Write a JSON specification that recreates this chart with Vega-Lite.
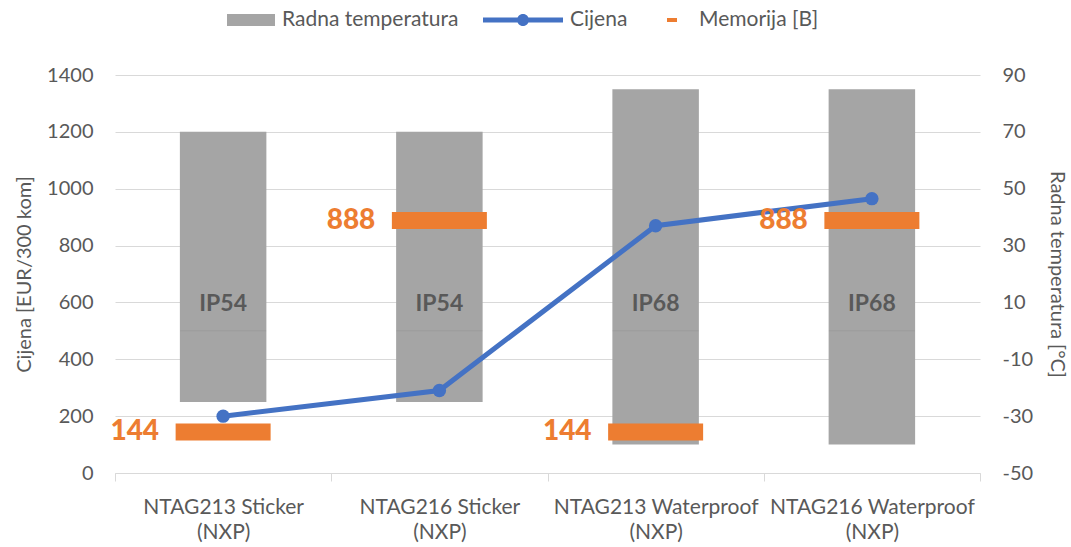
{
  "$schema": "https://vega.github.io/schema/vega-lite/v6.json",
  "width": 865,
  "height": 398,
  "autosize": {"type": "none"},
  "padding": {"left": 115, "top": 75, "right": 91, "bottom": 74},
  "background": "white",
  "config": {
    "view": {"stroke": null},
    "font": "Lato",
    "axis": {
      "labelFont": "Lato",
      "titleFont": "Lato",
      "labelFontSize": 20,
      "titleFontSize": 20,
      "titleFontWeight": "normal",
      "labelColor": "#595959",
      "titleColor": "#595959",
      "gridColor": "#d9d9d9",
      "domainColor": "#d9d9d9",
      "tickColor": "#d9d9d9"
    }
  },
  "data": {
    "values": [
      {"tag": "NTAG213 Sticker (NXP)", "tmin": -25, "tmax": 70, "ip": "IP54", "cijena": 200, "mem": 144},
      {"tag": "NTAG216 Sticker (NXP)", "tmin": -25, "tmax": 70, "ip": "IP54", "cijena": 290, "mem": 888},
      {"tag": "NTAG213 Waterproof (NXP)", "tmin": -40, "tmax": 85, "ip": "IP68", "cijena": 870, "mem": 144},
      {"tag": "NTAG216 Waterproof (NXP)", "tmin": -40, "tmax": 85, "ip": "IP68", "cijena": 965, "mem": 888}
    ]
  },
  "encoding": {
    "x": {
      "field": "tag",
      "type": "nominal",
      "sort": null,
      "scale": {"paddingInner": 0, "paddingOuter": 0},
      "axis": {
        "title": null,
        "labelAngle": 0,
        "labelOverlap": false,
        "labelLimit": 400,
        "labelFontSize": 21,
        "labelExpr": "[substring(datum.label,0,indexof(datum.label,' (')), substring(datum.label,indexof(datum.label,' (')+1)]",
        "labelLineHeight": 25,
        "labelPadding": 15,
        "tickBand": "extent",
        "tickSize": 8,
        "domainColor": "#d9d9d9",
        "tickColor": "#d9d9d9"
      }
    }
  },
  "layer": [
    {
      "layer": [
        {
          "mark": {"type": "bar", "color": "#a5a5a5", "width": {"band": 0.4}},
          "encoding": {
            "y": {
              "field": "tmin",
              "type": "quantitative",
              "title": "Radna temperatura [°C]",
              "scale": {"domain": [-50, 90], "nice": false, "zero": false},
              "axis": {
                "orient": "right",
                "values": [-50, -30, -10, 10, 30, 50, 70, 90],
                "labelExpr": "toString(datum.value)",
                "grid": false,
                "ticks": false,
                "domain": false,
                "labelPadding": 22,
                "titlePadding": 14
              }
            },
            "y2": {"field": "tmax"}
          }
        },
        {
          "mark": {"type": "tick", "color": "#8c8c8c", "opacity": 0.35, "size": 86, "thickness": 1},
          "encoding": {
            "y": {"datum": 0, "type": "quantitative", "title": "Radna temperatura [°C]"}
          }
        },
        {
          "mark": {"type": "text", "color": "#595959", "fontSize": 23, "fontWeight": "bold", "baseline": "middle"},
          "encoding": {
            "y": {"datum": 9.5, "type": "quantitative", "title": "Radna temperatura [°C]"},
            "text": {"field": "ip"}
          }
        }
      ]
    },
    {
      "layer": [
        {
          "mark": {"type": "line", "color": "#4472c4", "strokeWidth": 5, "point": {"filled": true, "size": 180, "color": "#4472c4", "opacity": 1}},
          "encoding": {
            "y": {
              "field": "cijena",
              "type": "quantitative",
              "title": "Cijena [EUR/300 kom]",
              "scale": {"domain": [0, 1400], "nice": false},
              "axis": {
                "orient": "left",
                "values": [0, 200, 400, 600, 800, 1000, 1200, 1400],
                "format": "d",
                "grid": true,
                "ticks": false,
                "domain": false,
                "labelPadding": 22,
                "titlePadding": 12
              }
            }
          }
        },
        {
          "mark": {"type": "tick", "color": "#ed7d31", "opacity": 1, "size": 95, "thickness": 17},
          "encoding": {
            "y": {"field": "mem", "type": "quantitative", "title": "Cijena [EUR/300 kom]"}
          }
        },
        {
          "mark": {"type": "text", "color": "#ed7d31", "fontSize": 28, "fontWeight": 900, "align": "right", "baseline": "middle", "dx": -64},
          "encoding": {
            "y": {"field": "mem", "type": "quantitative", "title": "Cijena [EUR/300 kom]"},
            "text": {"field": "mem"}
          }
        },
        {
          "data": {"values": [{"s": "Radna temperatura"}, {"s": "Cijena"}, {"s": "Memorija [B]"}]},
          "transform": [{"filter": "false"}],
          "mark": {"type": "point", "filled": true},
          "encoding": {
            "x": {"value": 0},
            "y": {"value": 0},
            "color": {
              "field": "s",
              "type": "nominal",
              "scale": {"domain": ["Radna temperatura", "Cijena", "Memorija [B]"], "range": ["#a5a5a5", "#4472c4", "#ed7d31"]},
              "legend": {
                "title": null,
                "orient": "none",
                "direction": "horizontal",
                "legendX": 120,
                "legendY": -75,
                "symbolSize": 1600,
                "symbolStrokeWidth": 0,
                "symbolOpacity": 1,
                "labelFont": "Lato",
                "labelFontSize": 21,
                "labelColor": "#595959",
                "labelOffset": 7,
                "labelLimit": 400,
                "columnPadding": 24
              }
            },
            "shape": {
              "field": "s",
              "type": "nominal",
              "scale": {
                "domain": ["Radna temperatura", "Cijena", "Memorija [B]"],
                "range": [
                  "M-1.4,-0.3H1V0.3H-1.4Z",
                  "M-3,-0.13H1V0.13H-3Z M-0.7,0A0.3,0.3 0 1,1 -1.3,0A0.3,0.3 0 1,1 -0.7,0Z",
                  "M-0.25,-0.1H0.25V0.1H-0.25Z"
                ]
              },
              "legend": {
                "title": null,
                "orient": "none",
                "direction": "horizontal",
                "legendX": 120,
                "legendY": -75,
                "symbolSize": 1600,
                "symbolStrokeWidth": 0,
                "symbolOpacity": 1,
                "labelFont": "Lato",
                "labelFontSize": 21,
                "labelColor": "#595959",
                "labelOffset": 7,
                "labelLimit": 400,
                "columnPadding": 24
              }
            }
          }
        }
      ]
    }
  ],
  "resolve": {"scale": {"y": "independent"}}
}
